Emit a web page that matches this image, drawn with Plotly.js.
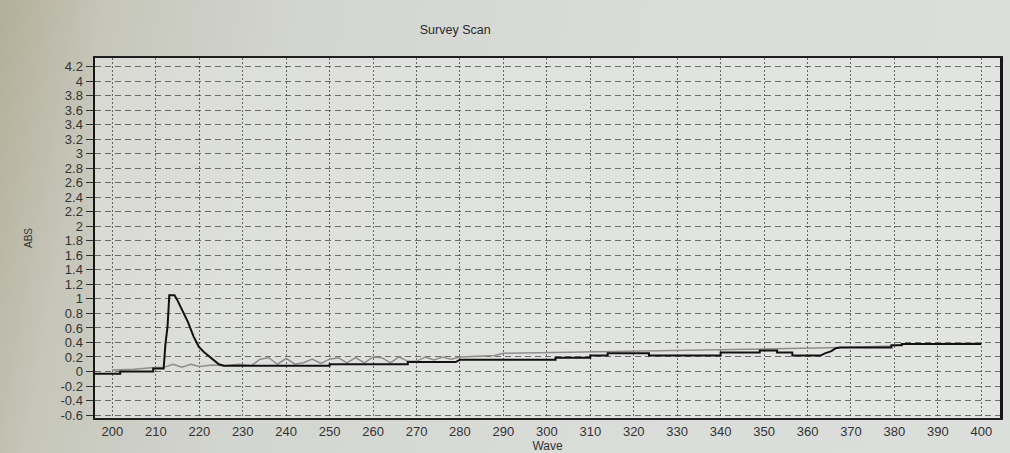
<!DOCTYPE html>
<html>
<head>
<meta charset="utf-8">
<script src="https://cdn.plot.ly/plotly-3.0.1.min.js"></script>
<style>
  html, body { margin: 0; padding: 0; }
  body {
    width: 1010px; height: 453px; overflow: hidden;
    background: linear-gradient(100deg, #b3ae97 0%, #c6c6ba 10%, #d3d5d0 28%, #dadcd9 60%, #dcdedc 100%);
  }
  #chart { width: 1010px; height: 453px; }
</style>
</head>
<body>
<div id="chart"></div>
<script>
// ---- data ----
// main (black) scan
const waveBlack = [196, 201.8, 201.8, 209.4, 209.4, 211.8, 212.2, 212.7, 213.1, 214.3,
  214.9, 216.1, 217.4, 218.7, 219.9, 221.2, 223.0, 224.5, 225.7, 250,
  250, 268, 268, 279, 280, 302, 302, 310, 310, 314,
  314, 323.5, 323.5, 340, 340, 349, 349, 353, 353, 356.5,
  356.5, 363, 364, 365.5, 366.5, 367.5, 379.3, 379.3, 381.7, 381.7, 400];
const absBlack = [-0.03, -0.03, 0.0, 0.0, 0.04, 0.04, 0.37, 0.62, 1.05, 1.05,
  0.99, 0.83, 0.68, 0.48, 0.34, 0.26, 0.17, 0.10, 0.08, 0.08,
  0.10, 0.10, 0.13, 0.13, 0.16, 0.16, 0.19, 0.19, 0.22, 0.22,
  0.25, 0.25, 0.22, 0.22, 0.26, 0.26, 0.29, 0.29, 0.26, 0.26,
  0.22, 0.22, 0.25, 0.28, 0.32, 0.33, 0.33, 0.36, 0.36, 0.38, 0.38];

// faint (grey) scan
const waveGrey = [200, 205, 209, 212, 214, 216, 218, 220, 223, 226,
  229, 232, 234, 236, 238, 240, 242, 244, 246, 248,
  250, 252, 254, 256, 258, 260, 262, 264, 266, 268,
  270, 272, 274, 276, 278, 280, 284, 288, 290, 300,
  310, 320, 330, 340, 350, 358, 365, 368, 380, 382, 400];
const absGrey = [0.02, 0.03, 0.05, 0.06, 0.10, 0.06, 0.10, 0.07, 0.09, 0.08,
  0.10, 0.08, 0.17, 0.19, 0.10, 0.18, 0.10, 0.12, 0.17, 0.11,
  0.17, 0.19, 0.12, 0.19, 0.12, 0.20, 0.19, 0.12, 0.20, 0.14,
  0.14, 0.20, 0.16, 0.20, 0.17, 0.20, 0.21, 0.22, 0.25, 0.26,
  0.27, 0.28, 0.29, 0.30, 0.31, 0.32, 0.32, 0.33, 0.35, 0.38, 0.39];

// axis ticks
const xTickVals = [200, 210, 220, 230, 240, 250, 260, 270, 280, 290, 300,
  310, 320, 330, 340, 350, 360, 370, 380, 390, 400];
const yTickVals = [-0.6, -0.4, -0.2, 0, 0.2, 0.4, 0.6, 0.8, 1, 1.2, 1.4, 1.6, 1.8,
  2, 2.2, 2.4, 2.6, 2.8, 3, 3.2, 3.4, 3.6, 3.8, 4, 4.2];
const yTickText = ["-0.6", "-0.4", "-0.2", "0", "0.2", "0.4", "0.6", "0.8", "1", "1.2",
  "1.4", "1.6", "1.8", "2", "2.2", "2.4", "2.6", "2.8", "3", "3.2", "3.4", "3.6",
  "3.8", "4", "4.2"];

const FONT = "Liberation Sans, Arial, sans-serif";

const traces = [
  {
    x: waveGrey, y: absGrey, type: "scatter", mode: "lines",
    line: { color: "#918b8b", width: 1.5 }, hoverinfo: "x+y", showlegend: false
  },
  {
    x: waveBlack, y: absBlack, type: "scatter", mode: "lines",
    line: { color: "#111111", width: 2 }, hoverinfo: "x+y", showlegend: false
  }
];

const layout = {
  width: 1010, height: 453,
  margin: { l: 95, r: 10, t: 58, b: 35 },
  paper_bgcolor: "rgba(0,0,0,0)",
  plot_bgcolor: "rgba(232,234,232,0.55)",
  font: { family: FONT, size: 12, color: "#333333" },
  title: {
    text: "Survey Scan",
    font: { family: FONT, size: 12.5, color: "#2a2a2a" },
    xref: "paper", x: 0.398, xanchor: "center",
    yref: "container", y: 0.934, yanchor: "middle"
  },
  xaxis: {
    range: [196, 404.3],
    tickvals: xTickVals,
    ticks: "",
    showgrid: true, gridcolor: "rgba(60,60,60,0.75)", gridwidth: 1, griddash: "2px,2px",
    zeroline: false,
    showline: true, linecolor: "#1e1e1e", linewidth: 2, mirror: true,
    tickfont: { family: FONT, size: 13, color: "#333333" },
    title: { text: "Wave", font: { family: FONT, size: 12, color: "#333333" }, standoff: 3 },
    automargin: false
  },
  yaxis: {
    range: [-0.641, 4.32],
    tickvals: yTickVals, ticktext: yTickText,
    ticks: "outside", ticklen: 7, tickcolor: "#333", tickwidth: 1,
    showgrid: true, gridcolor: "rgba(60,60,60,0.7)", gridwidth: 1, griddash: "6px,4px",
    zeroline: false,
    showline: true, linecolor: "#151515", linewidth: 2.5, mirror: true,
    tickfont: { family: FONT, size: 13, color: "#333333" },
    title: { text: "ABS", font: { family: FONT, size: 10, color: "#333333" }, standoff: 26 },
    automargin: false
  }
};

Plotly.newPlot("chart", traces, layout, { displayModeBar: false, staticPlot: true });
</script>
</body>
</html>
